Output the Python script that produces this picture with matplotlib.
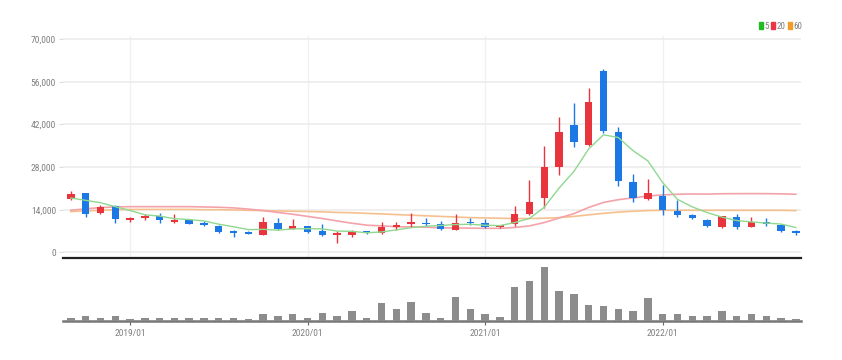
import numpy as np
import pandas as pd
import matplotlib.pyplot as plt
from matplotlib.patches import Patch

plt.rcParams['font.family'] = ['Liberation Sans Narrow', 'DejaVu Sans Condensed', 'Roboto Condensed',
                               'Liberation Sans', 'DejaVu Sans']

# 월봉 (2018/09 ~ 2022/10)
months = pd.date_range('2018-09-01', periods=50, freq='MS').strftime('%Y/%m').tolist()

opens = [17600, 19390, 13010, 15210, 10600, 11180, 11930, 10050, 10610, 9530,
         8640, 7000, 6570, 5680, 9530, 7760, 8640, 7000, 5780, 5680,
         6900, 6240, 8310, 9200, 9730, 9200, 7330, 10050, 9530, 8215,
         9300, 12590, 17740, 28130, 41830, 35260, 59580, 39630, 23200, 17610,
         18600, 13670, 12160, 10610, 8215, 11500, 8310, 9860, 9070, 7100]
closes = [19160, 12590, 14980, 10840, 11180, 12030, 10510, 10710, 9400, 8870,
          6670, 6340, 6010, 9860, 7560, 8640, 6770, 5680, 6240, 7100,
          6240, 8215, 9070, 9860, 9400, 7560, 9730, 9530, 8215, 8870,
          12490, 16630, 27930, 39630, 36150, 49490, 39860, 23530, 17940, 19390,
          13900, 12260, 11170, 8640, 11930, 8215, 9960, 9300, 7000, 6240]
highs = [20140, 19500, 15540, 15400, 11600, 12580, 12800, 12490, 10610, 10280,
         9000, 7330, 6900, 11700, 11170, 10840, 8700, 9300, 7100, 7430,
         7100, 10050, 10050, 13010, 11170, 10190, 12590, 11170, 10940, 9080,
         15210, 23760, 34930, 44560, 48960, 53890, 60130, 41270, 25730, 24090,
         22110, 17190, 12700, 10940, 12050, 12490, 11500, 11370, 9460, 7490]
lows = [17200, 11700, 12590, 9730, 9950, 10780, 9730, 9730, 9300, 8800,
        6500, 5130, 5900, 5600, 7450, 7650, 6500, 5520, 3150, 4900,
        6100, 6170, 7330, 8410, 8640, 7450, 7230, 8970, 8000, 8100,
        8640, 12260, 14460, 25400, 34500, 35000, 39300, 21790, 16630, 17190,
        12260, 11500, 10850, 8300, 8100, 7660, 8200, 8640, 6670, 5680]

# 거래량 (천주)
volumes = [300, 430, 230, 430, 200, 230, 300, 300, 230, 230,
           230, 230, 170, 670, 430, 670, 300, 800, 430, 930,
           300, 1800, 1130, 1900, 800, 300, 2370, 1130, 630, 330,
           3370, 3930, 5400, 2930, 2700, 1600, 1470, 1130, 930, 2300,
           630, 630, 430, 430, 1000, 500, 700, 430, 300, 170]

# 이동평균선
ma5 = [17840, 17080, 16300, 15000, 13750, 12324, 11908, 11054, 10766, 10304,
       9232, 8398, 7458, 7550, 7288, 7682, 7768, 7702, 6978, 6886,
       6406, 6695, 7373, 8097, 8557, 8821, 9124, 9216, 8887, 8781,
       9767, 11147, 14827, 21110, 26566, 33966, 38612, 37732, 33394, 30042,
       22924, 17404, 14932, 13072, 11580, 10443, 9983, 9609, 9281, 8143]
ma20 = [13800, 14300, 14700, 14900, 15000, 15000, 15000, 15000, 15000, 14900,
        14800, 14600, 14200, 13700, 13100, 12500, 11800, 11100, 10300, 9557,
        8911, 8692, 8397, 8348, 8259, 8035, 7996, 7937, 7878, 7878,
        8169, 8684, 9780, 11268, 12698, 14740, 16395, 17287, 17872, 18487,
        18870, 19072, 19177, 19116, 19242, 19275, 19287, 19275, 19214, 19083]
ma60 = [13400, 13600, 13800, 14000, 14100, 14100, 14100, 14100, 14100, 14000,
        14000, 13900, 13800, 13700, 13600, 13500, 13400, 13300, 13100, 13000,
        12800, 12600, 12400, 12200, 12000, 11800, 11600, 11400, 11300, 11200,
        11100, 11100, 11200, 11400, 11800, 12300, 12800, 13200, 13500, 13700,
        13800, 13800, 13800, 13800, 13800, 13800, 13800, 13800, 13800, 13700]

up_color = '#e8343c'
down_color = '#1c78e4'

x = np.arange(len(months))
o = np.array(opens)
c = np.array(closes)
colors = [up_color if cc >= oo else down_color for oo, cc in zip(o, c)]

fig = plt.figure(figsize=(8.42, 3.60), dpi=100)
ax = fig.add_axes([0.0748, 0.2825, 0.8765, 0.6168])
axv = fig.add_axes([0.0748, 0.1092, 0.8765, 0.163])

# 가격 차트
ax.plot(x, ma60, color='#f6c08e', lw=1.2, zorder=2)
ax.plot(x, ma20, color='#f4a2aa', lw=1.2, zorder=2)
ax.plot(x, ma5, color='#8fd88f', lw=1.0, zorder=4)

ax.vlines(x, lows, highs, colors=colors, lw=1.0, zorder=3)
body_bottom = np.minimum(o, c)
body_h = np.maximum(np.abs(c - o), 250)
ax.bar(x, body_h, bottom=body_bottom, width=0.5, color=colors, zorder=3)

ax.set_xlim(-0.53, 49.35)
ax.set_ylim(-1970, 71000)
ax.set_yticks(range(0, 70001, 14000))
ax.set_yticklabels([f'{v:,}' for v in range(0, 70001, 14000)])
year_ticks = [i for i, m in enumerate(months) if m.endswith('/01')]
ax.set_xticks(year_ticks)
ax.tick_params(axis='x', length=0, labelbottom=False)
ax.tick_params(axis='y', length=3, color='#dddddd', labelsize=6.8, labelcolor='#808080', pad=2)
ax.grid(axis='y', color='#ececec', lw=1.2)
ax.grid(axis='x', color='#f0f0f0', lw=1.0)
ax.set_axisbelow(True)
for s in ['top', 'right', 'left']:
    ax.spines[s].set_visible(False)
ax.spines['bottom'].set_color('#222222')
ax.spines['bottom'].set_linewidth(1.6)

# 거래량
axv.bar(x, volumes, width=0.5, color='#8c8c8c', zorder=3)
axv.set_xlim(-0.53, 49.35)
axv.set_ylim(0, 5870)
axv.set_yticks([])
axv.set_xticks(year_ticks)
axv.set_xticklabels([months[i] for i in year_ticks])
axv.tick_params(axis='x', length=3, color='#666666', labelsize=6.8, labelcolor='#808080', pad=3)
for s in ['top', 'right', 'left']:
    axv.spines[s].set_visible(False)
axv.spines['bottom'].set_color('#777777')
axv.spines['bottom'].set_linewidth(1.8)

handles = [Patch(color='#22bb22'), Patch(color='#ee3344'), Patch(color='#f39c2a')]
fig.legend(handles, ['5', '20', '60'], loc='upper right', bbox_to_anchor=(0.962, 0.962),
           ncol=3, frameon=False, fontsize=6.5, handlelength=0.45, handleheight=0.9,
           handletextpad=0.15, columnspacing=0.25, labelcolor='#808080')

fig.savefig('out.png', dpi=100)
